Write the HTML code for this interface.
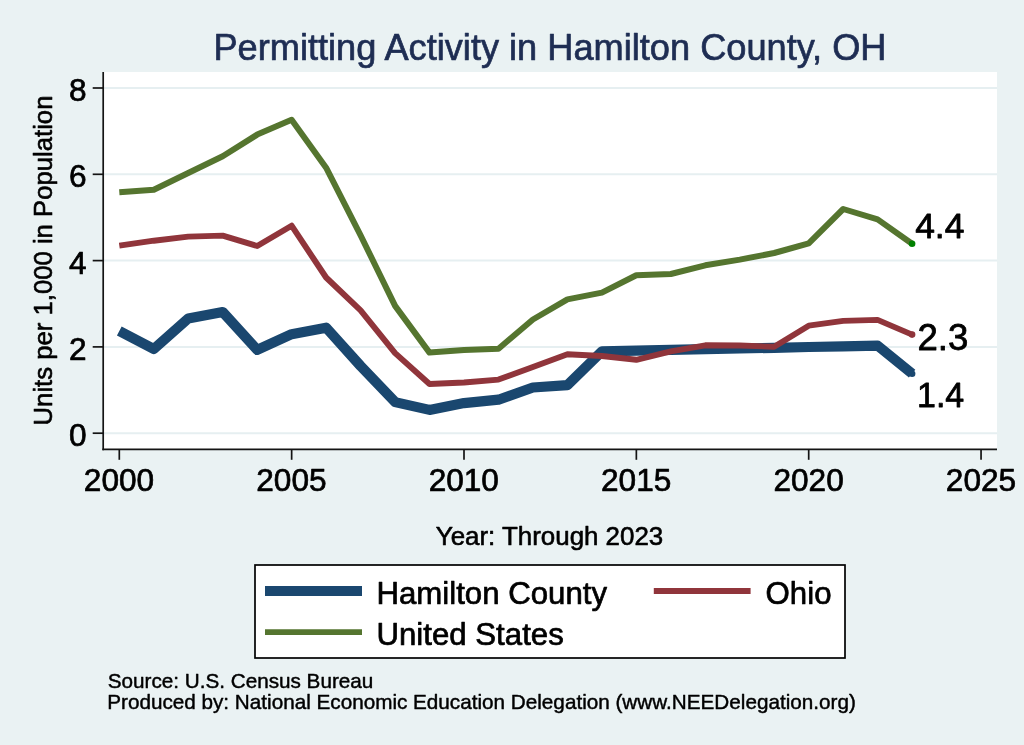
<!DOCTYPE html>
<html><head><meta charset="utf-8"><title>Permitting Activity in Hamilton County, OH</title>
<style>
html,body{margin:0;padding:0;background:#EAF2F3;}
svg{display:block;font-family:"Liberation Sans",sans-serif;will-change:transform;}
text{stroke-linejoin:round;}
</style></head>
<body>
<svg width="1024" height="745" viewBox="0 0 1024 745">
<rect x="0" y="0" width="1024" height="745" fill="#EAF2F3"/>
<rect x="103" y="72" width="894" height="377" fill="#FFFFFF"/>
<g stroke="#E6EFF1" stroke-width="2"><line x1="104" x2="997" y1="433.20" y2="433.20"/><line x1="104" x2="997" y1="346.90" y2="346.90"/><line x1="104" x2="997" y1="260.60" y2="260.60"/><line x1="104" x2="997" y1="174.30" y2="174.30"/><line x1="104" x2="997" y1="88.00" y2="88.00"/></g>
<g fill="none" stroke-linejoin="round" stroke-linecap="butt">
<polyline stroke="#1A476F" stroke-width="10.2" points="119.3,331.0 153.8,349.0 188.2,318.5 222.7,312.0 257.2,349.9 291.6,334.2 326.1,327.7 360.6,366.0 395.1,402.1 429.5,409.9 464.0,403.1 498.5,399.7 532.9,387.5 567.4,385.2 601.9,351.4 636.3,350.7 670.8,349.9 705.3,349.2 739.8,348.5 774.2,347.8 808.7,347.0 843.2,346.3 877.6,345.6 912.1,373.6"/>
<polyline stroke="#90353B" stroke-width="5.9" points="119.3,245.7 153.8,240.7 188.2,236.6 222.7,235.6 257.2,246.0 291.6,225.7 326.1,277.5 360.6,310.3 395.1,353.1 429.5,384.0 464.0,382.5 498.5,379.6 532.9,367.0 567.4,354.3 601.9,356.0 636.3,359.8 670.8,351.4 705.3,345.3 739.8,345.5 774.2,346.8 808.7,325.7 843.2,320.9 877.6,319.9 912.1,334.6"/>
<polyline stroke="#55752F" stroke-width="6" points="119.3,192.3 153.8,189.7 188.2,173.0 222.7,156.3 257.2,134.6 291.6,119.8 326.1,167.7 360.6,235.3 395.1,305.9 429.5,352.6 464.0,349.9 498.5,348.7 532.9,319.5 567.4,299.4 601.9,292.6 636.3,275.2 670.8,274.0 705.3,265.3 739.8,259.6 774.2,253.0 808.7,243.3 843.2,209.0 877.6,219.4 912.1,243.8"/>
</g>
<circle cx="912.1" cy="373.7" r="3.3" fill="#1A476F"/>
<circle cx="912.1" cy="334.6" r="3.3" fill="#90353B"/>
<circle cx="912.1" cy="243.8" r="3.3" fill="#008000"/>
<g stroke="#141414" stroke-width="1.7">
<line x1="103.2" x2="103.2" y1="72" y2="450.2"/>
<line x1="102.35" x2="997" y1="449.35" y2="449.35"/>
<line x1="92.7" x2="103" y1="433.20" y2="433.20"/><line x1="92.7" x2="103" y1="346.90" y2="346.90"/><line x1="92.7" x2="103" y1="260.60" y2="260.60"/><line x1="92.7" x2="103" y1="174.30" y2="174.30"/><line x1="92.7" x2="103" y1="88.00" y2="88.00"/><line y1="449.3" y2="459.8" x1="119.30" x2="119.30"/><line y1="449.3" y2="459.8" x1="291.65" x2="291.65"/><line y1="449.3" y2="459.8" x1="464.00" x2="464.00"/><line y1="449.3" y2="459.8" x1="636.35" x2="636.35"/><line y1="449.3" y2="459.8" x1="808.70" x2="808.70"/><line y1="449.3" y2="459.8" x1="981.05" x2="981.05"/>
</g>
<g font-size="31.6" fill="#000" stroke="#000" stroke-width="0.7"><text x="86.5" y="446.30" text-anchor="end">0</text><text x="86.5" y="360.00" text-anchor="end">2</text><text x="86.5" y="273.70" text-anchor="end">4</text><text x="86.5" y="187.40" text-anchor="end">6</text><text x="86.5" y="101.10" text-anchor="end">8</text><text x="119.00" y="490.5" text-anchor="middle">2000</text><text x="291.40" y="490.5" text-anchor="middle">2005</text><text x="463.80" y="490.5" text-anchor="middle">2010</text><text x="636.20" y="490.5" text-anchor="middle">2015</text><text x="808.60" y="490.5" text-anchor="middle">2020</text><text x="981.00" y="490.5" text-anchor="middle">2025</text></g>
<g fill="#000" stroke="#000" stroke-width="0.8">
<text x="915.2" y="238.0" font-size="35.3" textLength="49.2" lengthAdjust="spacingAndGlyphs">4.4</text>
<text x="917.4" y="350" font-size="36.6">2.3</text>
<text x="917.0" y="407.4" font-size="35.8" textLength="47.2" lengthAdjust="spacingAndGlyphs">1.4</text>
</g>
<text x="550" y="59.5" font-size="36.2" fill="#1E2D53" stroke="#1E2D53" stroke-width="0.7" text-anchor="middle">Permitting Activity in Hamilton County, OH</text>
<text transform="translate(52.3,260.5) rotate(-90)" font-size="25.7" fill="#000" stroke="#000" stroke-width="0.6" text-anchor="middle">Units per 1,000 in Population</text>
<text x="549.5" y="544.8" font-size="25.9" fill="#000" stroke="#000" stroke-width="0.6" text-anchor="middle">Year: Through 2023</text>
<rect x="255" y="565" width="590" height="93" fill="#FFFFFF" stroke="#000" stroke-width="1.7"/>
<line x1="265" x2="362" y1="591.1" y2="591.1" stroke="#1A476F" stroke-width="10"/>
<line x1="265" x2="362" y1="632.15" y2="632.15" stroke="#55752F" stroke-width="5.9"/>
<line x1="653.8" x2="750.6" y1="591" y2="591" stroke="#90353B" stroke-width="5.9"/>
<g font-size="31.2" fill="#000" stroke="#000" stroke-width="0.7">
<text x="376.5" y="603.7">Hamilton County</text>
<text x="376.5" y="644.9">United States</text>
<text x="765.6" y="603.7">Ohio</text>
</g>
<g font-size="20.7" fill="#000" stroke="#000" stroke-width="0.45">
<text x="107.7" y="688.4">Source: U.S. Census Bureau</text>
<text x="107.2" y="708.6">Produced by: National Economic Education Delegation (www.NEEDelegation.org)</text>
</g>
</svg>
</body></html>
